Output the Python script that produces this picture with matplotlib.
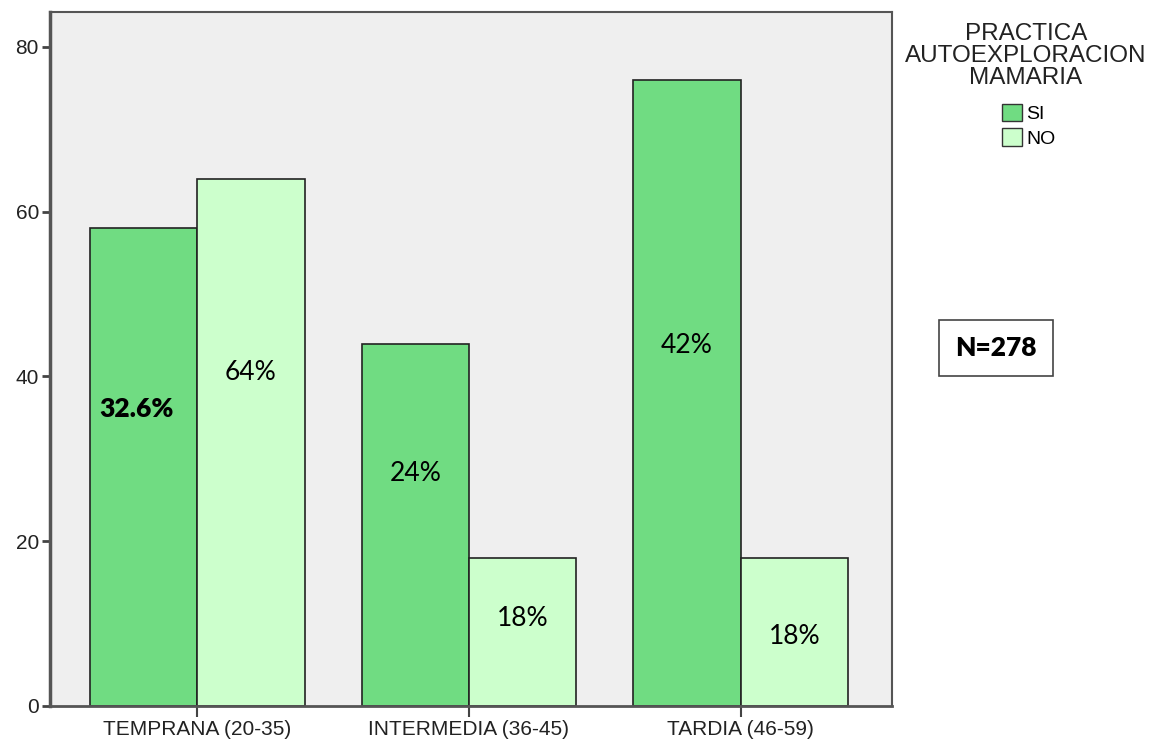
import numpy as np
import matplotlib.pyplot as plt
from matplotlib.patches import Patch

categories = ['TEMPRANA (20-35)', 'INTERMEDIA (36-45)', 'TARDIA (46-59)']
si_values = [58, 44, 76]
no_values = [64, 18, 18]
si_labels = ['32.6%', '24%', '42%']
no_labels = ['64%', '18%', '18%']
# y position of each percentage label (data units)
si_label_y = [36, 28.2, 43.8]
no_label_y = [40.5, 10.6, 8.4]

fig = plt.figure(figsize=(11.72, 7.39), dpi=100)
ax = fig.add_axes([0.0427, 0.0447, 0.7184, 0.9391])
ax.set_facecolor('#efefef')

x = np.arange(len(categories))
w = 0.395
ax.bar(x - w / 2, si_values, w, color='#70dc82', edgecolor='#222222', linewidth=1.2, label='SI')
ax.bar(x + w / 2, no_values, w, color='#ccffcc', edgecolor='#222222', linewidth=1.2, label='NO')

ax.set_xlim(-0.542, 2.557)
ax.set_ylim(0, 84.25)
ax.set_yticks([0, 20, 40, 60, 80])
ax.set_xticks(x)
ax.set_xticklabels(categories)
ax.tick_params(axis='both', labelsize=15, colors='#444444', labelcolor='#222222')
ax.tick_params(axis='y', length=6, width=2, pad=2)
ax.tick_params(axis='x', length=8, width=1.5, pad=2)
for lbl in ax.get_xticklabels() + ax.get_yticklabels():
    lbl.set_family('Liberation Sans')
for s in ax.spines.values():
    s.set_color('#555555')
    s.set_linewidth(1.5)
ax.spines['left'].set_linewidth(2.5)
ax.spines['bottom'].set_linewidth(2)

for i in range(len(categories)):
    ax.text(x[i] - w / 2 - (0.025 if i == 0 else 0), si_label_y[i], si_labels[i], ha='center', va='center',
            fontsize=19, family='Lato', fontweight='heavy' if i == 0 else 'normal')
    ax.text(x[i] + w / 2, no_label_y[i], no_labels[i], ha='center', va='center',
            fontsize=19, family='Lato')

# legend
fig.text(1026 / 1172, 1 - 56 / 739, 'PRACTICA\nAUTOEXPLORACION\nMAMARIA', ha='center', va='center',
         fontsize=17.5, family='Liberation Sans', color='#222222', linespacing=1.0)
handles = [Patch(facecolor='#70dc82', edgecolor='#333333', label='SI'),
           Patch(facecolor='#ccffcc', edgecolor='#333333', label='NO')]
fig.legend(handles=handles, loc='upper left', bbox_to_anchor=(1002 / 1172, 1 - 104 / 739),
           frameon=False, prop={'family': 'Liberation Sans', 'size': 14},
           handlelength=1.05, handleheight=1.0, handletextpad=0.2, labelspacing=0.25,
           borderpad=0, borderaxespad=0)

fig.text(996 / 1172, 1 - 348 / 739, 'N=278', ha='center', va='center', fontsize=19,
         family='Lato', fontweight='heavy',
         bbox=dict(boxstyle='square,pad=0.62', facecolor='white', edgecolor='#444444', linewidth=1.2))

fig.savefig('out.png', dpi=100)
